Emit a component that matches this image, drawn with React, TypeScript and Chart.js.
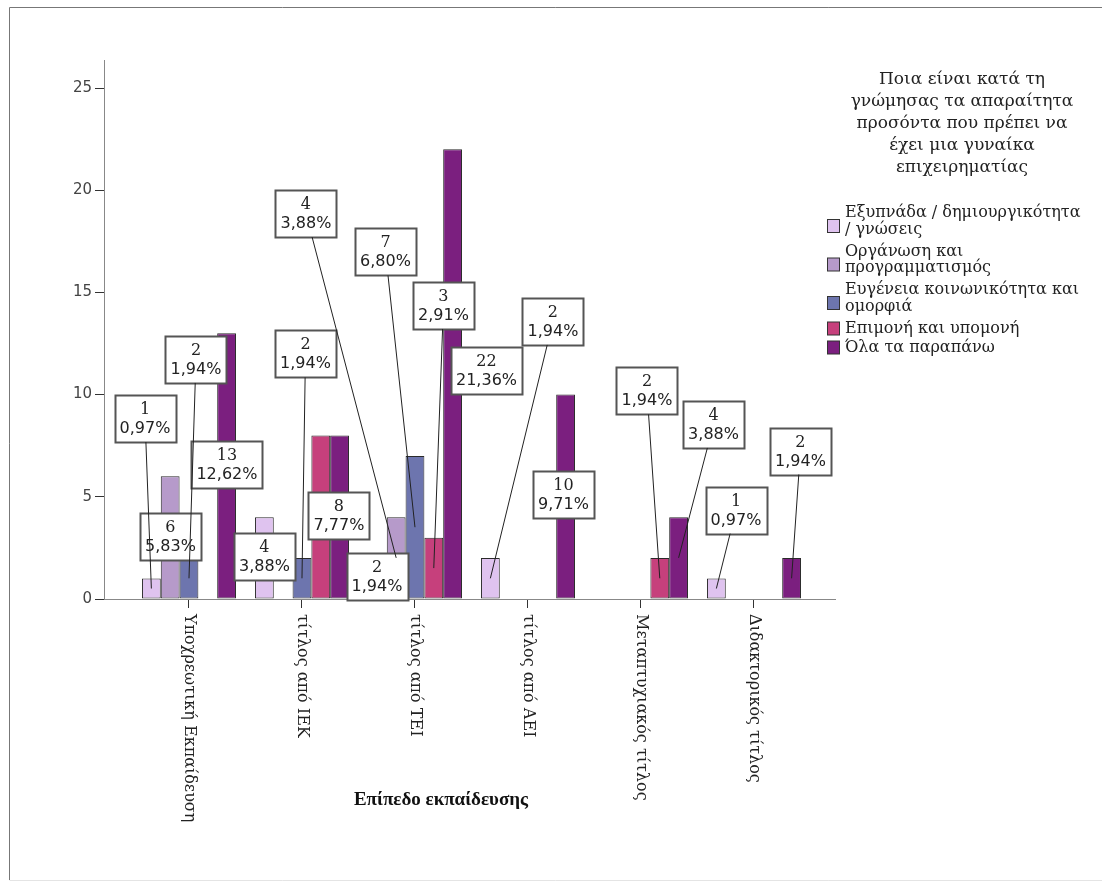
import React, { useEffect, useRef } from 'react';
import { Chart, registerables } from 'chart.js';

Chart.register(...registerables);

// ---------- data ----------
const categories = [
  'Υποχρεωτική Εκπαίδευση',
  'τίτλος από ΙΕΚ',
  'τίτλος από ΤΕΙ',
  'τίτλος από ΑΕΙ',
  'Μεταπτυχιακός τίτλος',
  'Διδακτορικός τίτλος',
];
const legendTitle = [
  'Ποια είναι κατά τη',
  'γνώμησας τα απαραίτητα',
  'προσόντα που πρέπει να',
  'έχει μια γυναίκα',
  'επιχειρηματίας',
];
const seriesNames = [
  ['Εξυπνάδα / δημιουργικότητα', '/ γνώσεις'],
  ['Οργάνωση και', 'προγραμματισμός'],
  ['Ευγένεια κοινωνικότητα και', 'ομορφιά'],
  ['Επιμονή και υπομονή'],
  ['Όλα τα παραπάνω'],
];
const smartness = [1, 4, 2, 2, 0, 1];
const organisation = [6, 0, 4, 0, 0, 0];
const nobility = [2, 2, 7, 0, 0, 0];
const persistence = [0, 8, 3, 0, 2, 0];
const allAbove = [13, 8, 22, 10, 4, 2];
const yTicks = [0, 5, 10, 15, 20, 25];
const xTitle = 'Επίπεδο εκπαίδευσης';

// label boxes: [series index, category index, box centre x (category units), box centre y (value units)]
const labelBoxes: [number, number, number, number][] = [
  [0, 0, -0.389, 8.83],
  [1, 0, -0.164, 3.08],
  [2, 0, 0.062, 11.72],
  [4, 0, 0.336, 6.6],
  [0, 1, 0.668, 2.1],
  [2, 1, 1.031, 11.99],
  [3, 1, 1.327, 4.09],
  [0, 2, 1.664, 1.1],
  [1, 2, 1.035, 18.86],
  [2, 2, 1.739, 16.98],
  [3, 2, 2.252, 14.36],
  [4, 2, 2.633, 11.2],
  [0, 3, 3.221, 13.58],
  [4, 3, 3.314, 5.09],
  [3, 4, 4.053, 10.18],
  [4, 4, 4.642, 8.54],
  [0, 5, 4.841, 4.35],
  [4, 5, 5.411, 7.24],
];

// ---------- styles ----------
const seriesData = [smartness, organisation, nobility, persistence, allAbove];
const colors = ['#DFC3EF', '#B69ACA', '#6D75AE', '#C6407C', '#7B1F7F'];
const total = seriesData.flat().reduce((a, b) => a + b, 0);
const fmtPct = (v: number) => (v / total * 100).toFixed(2).replace('.', ',') + '%';

const SERIF = '"DejaVu Serif", serif';
const SANS = '"DejaVu Sans", sans-serif';
const TIMES = '"Liberation Serif", serif';

const customPlugin = {
  id: 'spssDecor',
  beforeDraw(chart: any) {
    const ctx = chart.ctx;
    ctx.save();
    ctx.fillStyle = '#ffffff';
    ctx.fillRect(0, 0, chart.width, chart.height);
    ctx.strokeStyle = '#777';
    ctx.lineWidth = 1;
    ctx.beginPath();
    ctx.moveTo(9.5, 880);
    ctx.lineTo(9.5, 7.5);
    ctx.lineTo(chart.width, 7.5);
    ctx.stroke();
    ctx.strokeStyle = '#e4e4e4';
    ctx.beginPath();
    ctx.moveTo(9.5, 880.5);
    ctx.lineTo(chart.width, 880.5);
    ctx.stroke();
    ctx.restore();
  },
  afterDatasetsDraw(chart: any) {
    const ctx = chart.ctx;
    const xs = chart.scales.x;
    const ys = chart.scales.y;
    const items = labelBoxes.map(([s, c, bx, by]) => {
      const el = chart.getDatasetMeta(s).data[c];
      const v = seriesData[s][c];
      const pct = fmtPct(v);
      ctx.font = '16px ' + SANS;
      const w1 = ctx.measureText(pct).width;
      ctx.font = '16px ' + SERIF;
      const w2 = ctx.measureText(String(v)).width;
      const w = Math.round(Math.max(w1, w2) + 10);
      const h = 47;
      const cx = xs.getPixelForValue(bx);
      const cy = ys.getPixelForValue(by);
      const tx = el.x;
      const ty = (el.y + el.base) / 2;
      return { v, pct, w, h, cx, cy, tx, ty };
    });
    ctx.save();
    // boxes
    items.forEach((it) => {
      const x0 = Math.round(it.cx - it.w / 2) + 0.5;
      const y0 = Math.round(it.cy - it.h / 2) + 0.5;
      ctx.fillStyle = '#fff';
      ctx.fillRect(x0, y0, it.w, it.h);
      ctx.strokeStyle = '#555';
      ctx.lineWidth = 2;
      ctx.strokeRect(x0, y0, it.w, it.h);
      ctx.fillStyle = '#222';
      ctx.textAlign = 'center';
      ctx.textBaseline = 'middle';
      ctx.font = '16px ' + SERIF;
      ctx.fillText(String(it.v), it.cx, y0 + 14);
      ctx.font = '16px ' + SANS;
      ctx.fillText(it.pct, it.cx, y0 + 33);
    });
    // leader lines
    ctx.strokeStyle = '#222';
    ctx.lineWidth = 1;
    items.forEach((it) => {
      const dx = it.tx - it.cx;
      const dy = it.ty - it.cy;
      const hw = it.w / 2;
      const hh = it.h / 2;
      const t = Math.min(dx !== 0 ? hw / Math.abs(dx) : Infinity, dy !== 0 ? hh / Math.abs(dy) : Infinity);
      if (t >= 1) return;
      ctx.beginPath();
      ctx.moveTo(it.cx + dx * t, it.cy + dy * t);
      ctx.lineTo(it.tx, it.ty);
      ctx.stroke();
    });
    ctx.restore();
  },
  afterDraw(chart: any) {
    const ctx = chart.ctx;
    const xs = chart.scales.x;
    const area = chart.chartArea;
    ctx.save();
    // rotated category labels
    ctx.fillStyle = '#222';
    ctx.font = '16px ' + SERIF;
    ctx.textAlign = 'left';
    ctx.textBaseline = 'middle';
    categories.forEach((label, i) => {
      const px = xs.getPixelForValue(i);
      ctx.save();
      ctx.translate(px, area.bottom + 15);
      ctx.rotate(Math.PI / 2);
      ctx.fillText(label, 0, 0);
      ctx.restore();
    });
    // axis title
    ctx.font = 'bold 19px ' + TIMES;
    ctx.textAlign = 'center';
    ctx.fillStyle = '#111';
    ctx.fillText(xTitle, 441, 800);
    // legend title
    ctx.font = '17px ' + SERIF;
    ctx.fillStyle = '#222';
    legendTitle.forEach((line, i) => {
      ctx.fillText(line, 962, 80 + i * 22);
    });
    // legend items
    ctx.textAlign = 'left';
    ctx.font = '16px ' + SERIF;
    let y = 213;
    seriesNames.forEach((lines, s) => {
      const boxTop = lines.length === 1 ? y - 7 : y + 6;
      ctx.fillStyle = colors[s];
      ctx.fillRect(827.5, boxTop + 0.5, 12, 13);
      ctx.strokeStyle = '#333';
      ctx.lineWidth = 1;
      ctx.strokeRect(827.5, boxTop + 0.5, 12, 13);
      ctx.fillStyle = '#222';
      lines.forEach((ln, k) => {
        ctx.fillText(ln, 845, y + k * 16.5);
      });
      y += lines.length === 1 ? 19 : 38.5;
    });
    ctx.restore();
  },
};

export default function App() {
  const ref = useRef<HTMLCanvasElement>(null);
  useEffect(() => {
    const datasets = seriesData.map((arr, s) => ({
      label: seriesNames[s].join(' '),
      data: arr.map((v, i) => ({ x: i, y: v === 0 ? null : v })),
      backgroundColor: colors[s],
      borderColor: '#2a2a2a',
      borderWidth: 1,
      borderSkipped: false,
      categoryPercentage: 0.832,
      barPercentage: 1,
    }));
    const chart = new Chart(ref.current as HTMLCanvasElement, {
      type: 'bar',
      data: { datasets: datasets as any },
      options: {
        responsive: false,
        animation: false,
        events: [],
        layout: { padding: { top: 60, right: 267, bottom: 274, left: 0 } },
        plugins: { legend: { display: false }, tooltip: { enabled: false } },
        scales: {
          x: {
            type: 'linear',
            offset: false,
            min: -0.752,
            max: 5.717,
            afterBuildTicks: (scale: any) => {
              scale.ticks = categories.map((_, i) => ({ value: i }));
            },
            afterFit: (scale: any) => {
              scale.height = 10;
            },
            ticks: { display: false },
            grid: { display: true, offset: false, drawOnChartArea: false, drawTicks: true, tickLength: 9, color: '#333' },
            border: { display: true, color: '#888', width: 1 },
          },
          y: {
            type: 'linear',
            min: 0,
            max: 26.37,
            afterBuildTicks: (scale: any) => {
              scale.ticks = yTicks.map((v) => ({ value: v }));
            },
            afterFit: (scale: any) => {
              scale.width = 104;
            },
            ticks: { font: { family: SANS, size: 15 }, color: '#444', padding: 3 },
            grid: { display: true, drawOnChartArea: false, drawTicks: true, tickLength: 9, color: '#333' },
            border: { display: true, color: '#888', width: 1 },
          },
        },
      },
      plugins: [customPlugin],
    } as any);
    return () => chart.destroy();
  }, []);
  return (
    <div style={{ position: 'absolute', left: 0, top: 0, width: 1102, height: 883, background: '#fff' }}>
      <canvas ref={ref} width={1102} height={883} style={{ display: 'block' }} />
    </div>
  );
}
